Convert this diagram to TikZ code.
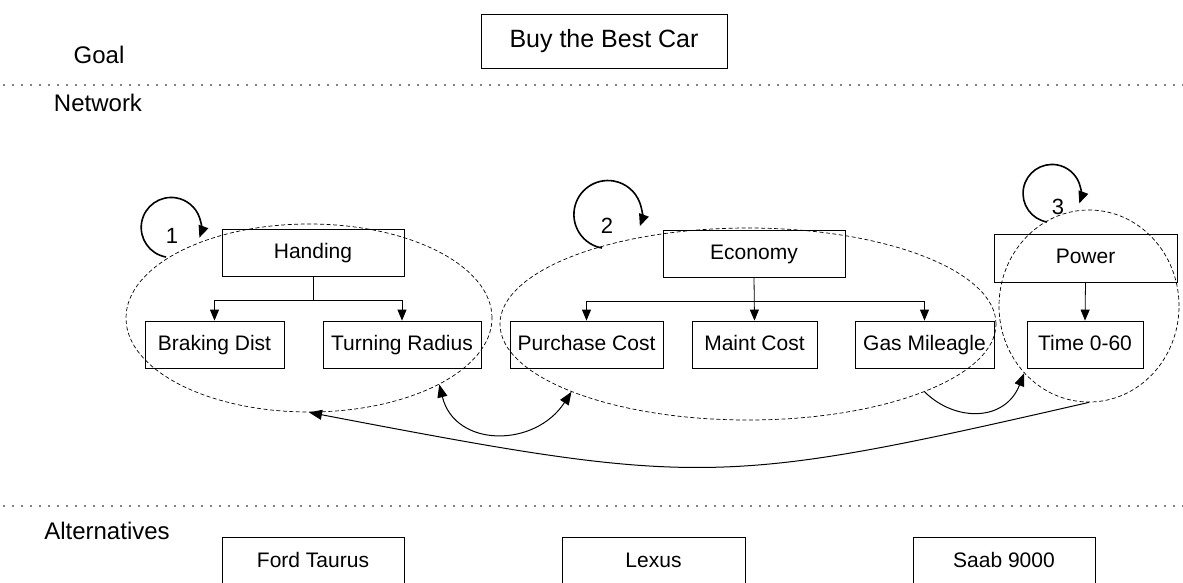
\documentclass[tikz,border=0pt]{standalone}
\usepackage{fontspec}
\setmainfont{Liberation Sans}
\usetikzlibrary{shapes.geometric,arrows.meta,calc}
\begin{document}
\begin{tikzpicture}[x=1pt,y=-1pt,
  box/.style={draw,line width=0.8pt,inner sep=0pt,minimum height=47pt,text height=15pt,text depth=4pt,font=\fontsize{21}{24}\selectfont},
  lbl/.style={inner sep=0pt,text height=17pt,text depth=5pt,font=\fontsize{24}{28}\selectfont},
  num/.style={inner sep=0pt,font=\fontsize{22}{26}\selectfont},
  conn/.style={line width=0.8pt,-{Triangle[length=11pt,width=9pt]}},
  plain/.style={line width=0.8pt},
  grp/.style={ellipse,draw,dash pattern=on 4pt off 2.5pt,line width=0.7pt,inner sep=0pt},
  loopy/.style={line width=1.6pt,-{Triangle[length=12pt,width=10pt]}},
  link/.style={line width=1pt,-{Triangle[length=13pt,width=10pt]}},
  sep/.style={line width=1.6pt,line cap=round,dash pattern=on 0pt off 9pt}
]
\clip (0,0) rectangle (1183,582);
% separators
\draw[sep] (4,85) -- (1183,85);
\draw[sep] (4,506) -- (1183,506);
% section labels
\node[lbl] (goallbl) at (99,57) {Goal};
\node[lbl] (netlbl) at (98,105) {Network};
\node[lbl] (altlbl) at (107,533) {Alternatives};
% goal
\node[box,minimum width=246pt,minimum height=54pt,text height=18pt,text depth=5pt,font=\fontsize{25}{29}\selectfont] (goal) at (604,41) {Buy the Best Car};
% handling cluster
\node[box,minimum width=182pt] (hand) at (313,253) {Handing};
\node[box,minimum width=139pt] (brake) at (214.5,344.5) {Braking Dist};
\node[box,minimum width=158pt] (turn) at (402,344.5) {Turning Radius};
\coordinate (hj) at (313,300);
\draw[plain] (hand.south) -- (hj);
\draw[conn] (hj) -| (brake.north);
\draw[conn] (hj) -| (turn.north);
% economy cluster
\node[box,minimum width=182pt] (econ) at (754,253.5) {Economy};
\node[box,minimum width=153pt] (purch) at (586.5,344.5) {Purchase Cost};
\node[box,minimum width=125pt] (maint) at (754.5,344.5) {Maint Cost};
\node[box,minimum width=139pt] (gas) at (924.5,344.5) {Gas Mileagle};
\coordinate (ej) at (754.5,301);
\draw[conn] (econ.south) -- (maint.north);
\draw[conn] (ej) -| (purch.north);
\draw[conn] (ej) -| (gas.north);
% power cluster
\node[box,minimum width=183pt,minimum height=48pt] (power) at (1085.5,258) {Power};
\node[box,minimum width=116pt] (time) at (1085,344.5) {Time 0-60};
\draw[conn] (power.south) -- (time.north);
% group outlines
\node[grp,minimum width=366pt,minimum height=188pt] (g1) at (309,318) {};
\node[grp,minimum width=496pt,minimum height=192pt] (g2) at (748,324) {};
\node[grp,minimum width=180pt,minimum height=192pt] (g3) at (1089,306) {};
% self loops
\draw[loopy] (166,257) arc[start angle=100,end angle=380,radius=30];
\node[num] (n1) at (172,236) {1};
\draw[loopy] (602,248) arc[start angle=100,end angle=380,radius=34];
\node[num] (n2) at (607,226) {2};
\draw[loopy] (1047,222) arc[start angle=100,end angle=380,radius=29];
\node[num] (n3) at (1058,207) {3};
% links between groups
\draw[link,{Triangle[length=13pt,width=10pt]}-{Triangle[length=13pt,width=10pt]}] (g1.-27) .. controls (455,448) and (535,448) .. (g2.201.5);
\draw[link] (g2.-21) .. controls (955,422) and (1005,422) .. (g3.226);
\draw[link] (g3.south) .. controls (720,487) and (700,487) .. (g1.south);
% alternatives
\node[box,minimum width=182pt,minimum height=50pt] (ford) at (313,562) {Ford Taurus};
\node[box,minimum width=183pt,minimum height=50pt] (lexus) at (653.5,562) {Lexus};
\node[box,minimum width=182pt,minimum height=50pt] (saab) at (1004,562) {Saab 9000};
\end{tikzpicture}
\end{document}
